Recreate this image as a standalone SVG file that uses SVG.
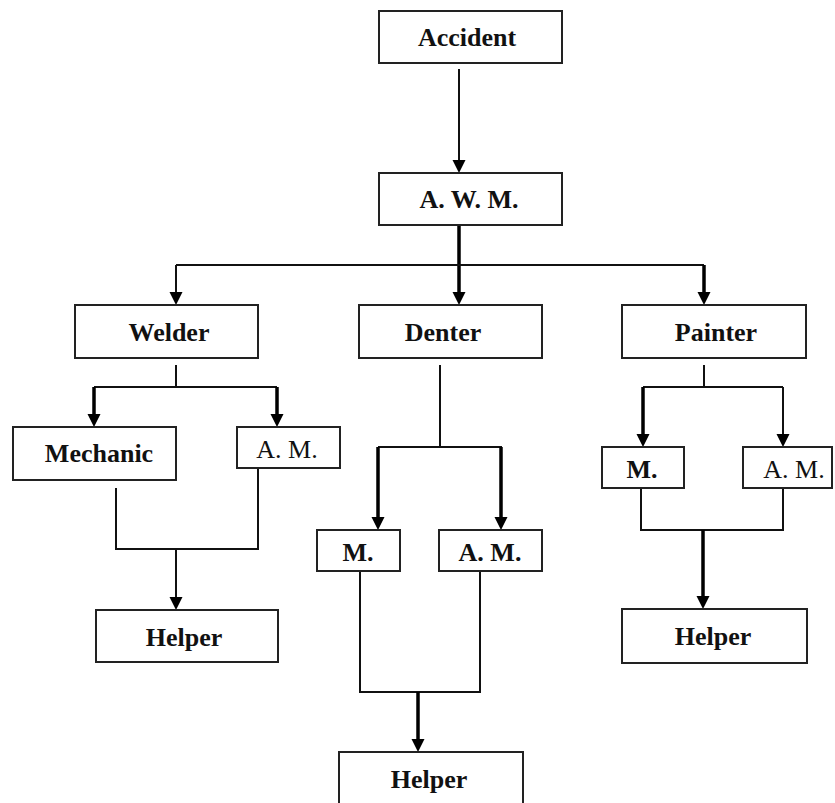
<svg xmlns="http://www.w3.org/2000/svg" width="835" height="803" viewBox="0 0 835 803">
<style>
.box{fill:#fff;stroke:#222;stroke-width:2}
.t{font-family:"Liberation Serif","Times New Roman",serif;font-size:26px;font-weight:bold;fill:#111;text-anchor:middle}
.n{font-weight:normal}
.c{fill:none;stroke:#111;stroke-width:2}
.k{fill:none;stroke:#000;stroke-width:3.5}
.h{fill:#000}
</style>
<rect width="835" height="803" fill="#fff"/>
<g id="connectors">
<path class="c" d="M459,69 V160"/>
<path class="h" d="M452.5,160 L465.5,160 L459,173 Z"/>
<path class="k" d="M459,225 V292"/>
<path class="h" d="M452.5,292 L465.5,292 L459,305 Z"/>
<path class="c" d="M176,265 H704"/>
<path class="c" d="M176,265 V292"/>
<path class="h" d="M169.5,292 L182.5,292 L176,305 Z"/>
<path class="k" d="M704,265 V292"/>
<path class="h" d="M697.5,292 L710.5,292 L704,305 Z"/>
<path class="c" d="M176,365 V387 M94,387 H277"/>
<path class="k" d="M94,387 V414 M277,387 V414"/>
<path class="h" d="M87.5,414 L100.5,414 L94,427 Z M270.5,414 L283.5,414 L277,427 Z"/>
<path class="c" d="M116,488 V549 H258 V468 M176,549 V597"/>
<path class="h" d="M169.5,597 L182.5,597 L176,610 Z"/>
<path class="c" d="M440,365 V447 H502 M440,447 H378"/>
<path class="k" d="M378,447 V517 M501,447 V517"/>
<path class="h" d="M371.5,517 L384.5,517 L378,530 Z M494.5,517 L507.5,517 L501,530 Z"/>
<path class="c" d="M360,571 V692 H480 V571"/>
<path class="k" d="M418,692 V739"/>
<path class="h" d="M411.5,739 L424.5,739 L418,752 Z"/>
<path class="c" d="M704,365 V387 M643,387 H783"/>
<path class="k" d="M643,387 V434"/>
<path class="c" d="M783,387 V434"/>
<path class="h" d="M636.5,434 L649.5,434 L643,447 Z M776.5,434 L789.5,434 L783,447 Z"/>
<path class="c" d="M641,488 V530 H783 V488"/>
<path class="k" d="M703,530 V596"/>
<path class="h" d="M696.5,596 L709.5,596 L703,609 Z"/>
</g>
<g id="accident"><rect class="box" x="379" y="11" width="183" height="52"/><text class="t" x="467" y="46">Accident</text></g>
<g id="awm"><rect class="box" x="379" y="173" width="183" height="52"/><text class="t" x="469" y="208">A. W. M.</text></g>
<g id="welder"><rect class="box" x="75" y="305" width="183" height="53"/><text class="t" x="169" y="341">Welder</text></g>
<g id="denter"><rect class="box" x="359" y="305" width="183" height="53"/><text class="t" x="443" y="341">Denter</text></g>
<g id="painter"><rect class="box" x="622" y="305" width="184" height="53"/><text class="t" x="716" y="341">Painter</text></g>
<g id="mechanic"><rect class="box" x="13" y="427" width="163" height="53"/><text class="t" x="99" y="462">Mechanic</text></g>
<g id="welder-am"><rect class="box" x="237" y="427" width="103" height="41"/><text class="t n" x="287" y="458">A. M.</text></g>
<g id="denter-m"><rect class="box" x="317" y="530" width="83" height="41"/><text class="t" x="358" y="561">M.</text></g>
<g id="denter-am"><rect class="box" x="439" y="530" width="103" height="41"/><text class="t" x="490" y="561">A. M.</text></g>
<g id="painter-m"><rect class="box" x="602" y="447" width="82" height="41"/><text class="t" x="642" y="478">M.</text></g>
<g id="painter-am"><rect class="box" x="743" y="447" width="89" height="41"/><text class="t n" x="794" y="478">A. M.</text></g>
<g id="helper-welder"><rect class="box" x="96" y="610" width="182" height="52"/><text class="t" x="184" y="646">Helper</text></g>
<g id="helper-denter"><rect class="box" x="339" y="752" width="184" height="60"/><text class="t" x="429" y="788">Helper</text></g>
<g id="helper-painter"><rect class="box" x="622" y="609" width="185" height="54"/><text class="t" x="713" y="645">Helper</text></g>
</svg>
